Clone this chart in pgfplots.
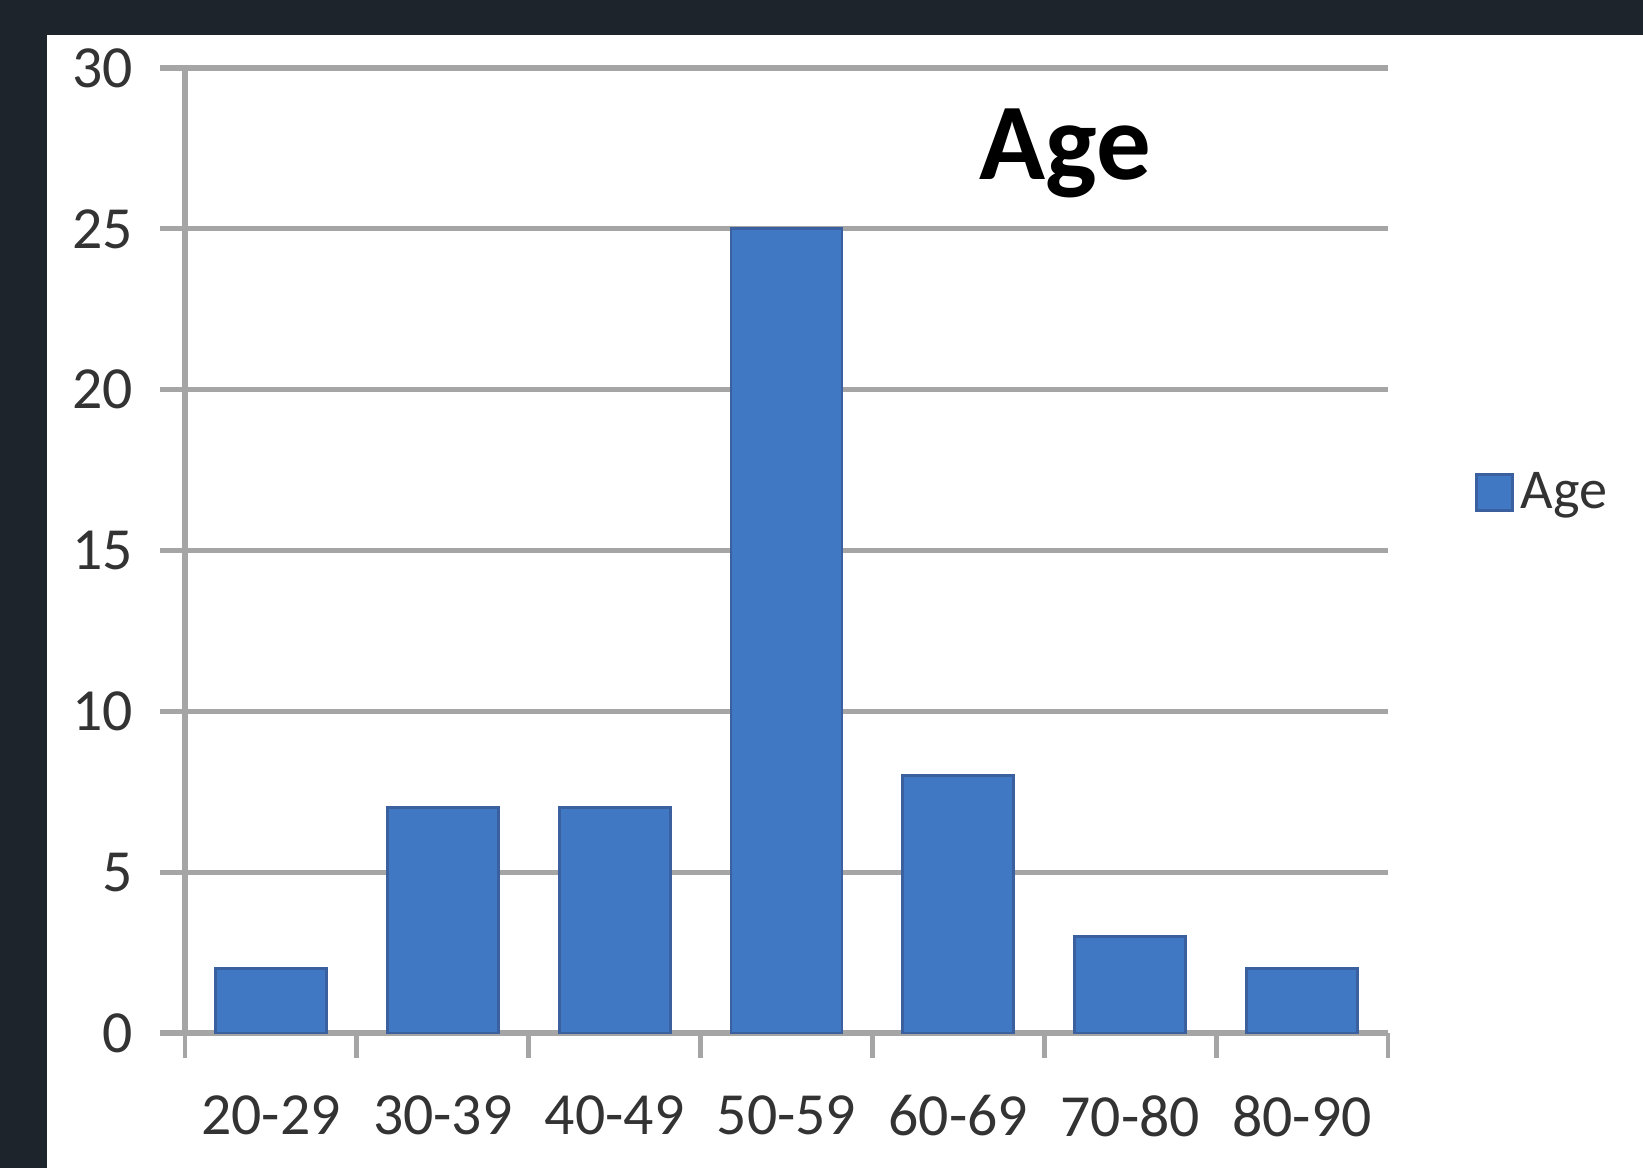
\documentclass[border=0pt]{standalone}
\usepackage{fontspec}
\setmainfont{Carlito}
\usepackage{pgfplots}
\pgfplotsset{compat=1.18}
\definecolor{barblue}{RGB}{64,120,196}
\definecolor{baredge}{RGB}{58,96,160}
\definecolor{gridgray}{RGB}{165,165,165}
\definecolor{bgdark}{RGB}{30,36,44}
\begin{document}
\begin{tikzpicture}
\useasboundingbox (0,0) rectangle (16.43,11.68);
\fill[bgdark] (0,0) rectangle (16.43,11.68);
\fill[white] (0.47,0) rectangle (16.43,11.33);
\begin{axis}[
  at={(1.85cm,1.35cm)}, anchor=south west,
  scale only axis, width=12.03cm, height=9.65cm,
  xmin=-0.5, xmax=6.5, ymin=0, ymax=30,
  ytick={0,5,...,30},
  xtick={0,...,6},
  xticklabels={20-29,30-39,40-49,50-59,60-69,70-80,80-90},
  minor xtick={-0.5,0.5,...,6.5},
  tick align=outside,
  major tick length=0.25cm, minor tick length=0.25cm,
  x tick style={draw=none},
  minor x tick style={draw=gridgray, line width=1.4pt},
  y tick style={draw=gridgray, line width=1.5pt},
  ymajorgrids, grid style={gridgray, line width=1.5pt},
  axis x line*=bottom, axis y line*=left,
  axis line style={gridgray, line width=1.5pt, -},
  /pgf/number format/assume math mode=true,
  ticklabel style={font=\fontsize{17}{20}\selectfont, text=black!80},
  yticklabel style={xshift=-0.15cm},
  xticklabel style={yshift=-0.25cm},
  ybar, bar width=1.11cm,
  legend style={at={(1.063,0.56)}, anchor=west, draw=none, fill=none,
    font=\fontsize{16}{19}\selectfont, text=black!80},
  legend image code/.code={\fill[barblue, draw=baredge] (0cm,-0.18cm) rectangle (0.36cm,0.18cm);},
]
\addplot[fill=barblue, draw=baredge, line width=0.8pt] coordinates {(0,2) (1,7) (2,7) (3,25) (4,8) (5,3) (6,2)};
\legend{Age}
\node[font=\bfseries\fontsize{31}{36}\selectfont, anchor=base] at (rel axis cs:0.732,0.884) {Age};
\end{axis}
\end{tikzpicture}
\end{document}
